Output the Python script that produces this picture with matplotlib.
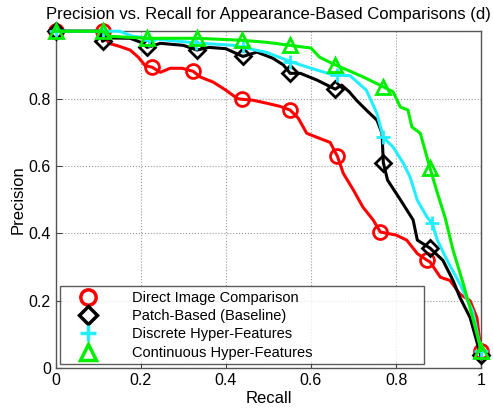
import numpy as np
import matplotlib.pyplot as plt

plt.rcParams['font.family'] = ['Liberation Sans', 'DejaVu Sans']

# Direct image comparison (red)
red_x = [0, 0.11, 0.125, 0.15, 0.175, 0.194, 0.21, 0.227, 0.246, 0.269, 0.297, 0.323,
         0.34, 0.37, 0.40, 0.427, 0.438, 0.464, 0.497, 0.527, 0.551, 0.57, 0.59, 0.62,
         0.645, 0.657, 0.662, 0.676, 0.70, 0.722, 0.746, 0.763, 0.80, 0.825, 0.85, 0.873,
         0.88, 0.904, 0.927, 0.95, 0.974, 0.99, 1.0]
red_y = [1, 1, 0.964, 0.955, 0.944, 0.923, 0.898, 0.893, 0.878, 0.89, 0.89, 0.881,
         0.864, 0.849, 0.825, 0.80, 0.798, 0.795, 0.786, 0.777, 0.766, 0.742, 0.697, 0.682,
         0.67, 0.641, 0.629, 0.578, 0.528, 0.478, 0.44, 0.404, 0.395, 0.38, 0.34, 0.32,
         0.315, 0.27, 0.26, 0.22, 0.20, 0.15, 0.045]
red_mx = [0, 0.11, 0.227, 0.323, 0.438, 0.551, 0.662, 0.763, 0.873, 1.0]
red_my = [1, 1, 0.893, 0.881, 0.798, 0.766, 0.629, 0.404, 0.32, 0.05]

# Patch-based baseline (black)
blk_x = [0, 0.105, 0.11, 0.125, 0.175, 0.2, 0.215, 0.246, 0.30, 0.332, 0.36, 0.40,
         0.44, 0.473, 0.51, 0.535, 0.551, 0.575, 0.614, 0.657, 0.672, 0.69, 0.707, 0.73,
         0.755, 0.767, 0.77, 0.78, 0.81, 0.84, 0.85, 0.88, 0.91, 0.934, 0.95, 0.974, 1.0]
blk_y = [1, 1, 0.97, 0.98, 0.979, 0.967, 0.952, 0.964, 0.958, 0.944, 0.952, 0.948,
         0.925, 0.938, 0.92, 0.90, 0.875, 0.875, 0.855, 0.828, 0.84, 0.82, 0.795, 0.766,
         0.736, 0.697, 0.61, 0.558, 0.50, 0.44, 0.38, 0.356, 0.32, 0.26, 0.21, 0.15, 0.033]
blk_mx = [0, 0.11, 0.215, 0.332, 0.44, 0.551, 0.657, 0.77, 0.88, 1.0]
blk_my = [1, 0.97, 0.952, 0.944, 0.925, 0.875, 0.828, 0.61, 0.356, 0.04]

# Discrete hyper-features (cyan)
cyn_x = [0, 0.15, 0.18, 0.25, 0.33, 0.418, 0.496, 0.551, 0.6, 0.653, 0.692, 0.73,
         0.755, 0.77, 0.793, 0.817, 0.833, 0.85, 0.873, 0.885, 0.897, 0.92, 0.95, 0.98, 1.0]
cyn_y = [1, 1, 0.985, 0.975, 0.965, 0.958, 0.937, 0.91, 0.89, 0.87, 0.868, 0.825,
         0.756, 0.685, 0.656, 0.608, 0.567, 0.498, 0.448, 0.43, 0.38, 0.32, 0.25, 0.17, 0.05]
cyn_mx = [0, 0.11, 0.22, 0.33, 0.44, 0.551, 0.66, 0.77, 0.885, 1.0]
cyn_my = [1, 1, 0.975, 0.965, 0.955, 0.91, 0.87, 0.685, 0.43, 0.05]

# Continuous hyper-features (green)
grn_x = [0, 0.11, 0.125, 0.215, 0.332, 0.438, 0.496, 0.551, 0.6, 0.62, 0.657, 0.676,
         0.723, 0.77, 0.793, 0.81, 0.828, 0.837, 0.857, 0.868, 0.88, 0.897, 0.915, 0.934,
         0.958, 0.98, 1.0]
grn_y = [1, 1, 0.985, 0.979, 0.979, 0.973, 0.967, 0.958, 0.95, 0.923, 0.90, 0.89,
         0.864, 0.835, 0.82, 0.775, 0.766, 0.716, 0.697, 0.647, 0.593, 0.52, 0.448, 0.35,
         0.25, 0.15, 0.053]
grn_mx = [0, 0.11, 0.215, 0.332, 0.438, 0.551, 0.657, 0.77, 0.88, 1.0]
grn_my = [1, 1, 0.979, 0.979, 0.973, 0.958, 0.90, 0.835, 0.593, 0.05]

labels = ['Direct Image Comparison', 'Patch-Based (Baseline)',
          'Discrete Hyper-Features', 'Continuous Hyper-Features']

fig = plt.figure(figsize=(4.93, 4.16), dpi=100)
ax = fig.add_axes([0.113, 0.115, 0.863, 0.81])

series = [
    (red_x, red_y, red_mx, red_my, '#ff0000', 'o'),
    (blk_x, blk_y, blk_mx, blk_my, '#000000', 'D'),
    (cyn_x, cyn_y, cyn_mx, cyn_my, '#22eeff', '+'),
    (grn_x, grn_y, grn_mx, grn_my, '#00ee00', '^'),
]
handles = []
for (lx, ly, mx, my, col, mk), lab in zip(series, labels):
    ax.plot(lx, ly, color=col, lw=2.2, clip_on=False, zorder=3)
    ms = 8 if mk == 'D' else 10
    ax.plot(mx, my, ls='none', marker=mk, ms=ms, mfc='none', mec=col, mew=2,
            clip_on=False, zorder=3)
    h, = ax.plot([], [], ls='none', marker=mk, ms=ms + 1, mfc='none', mec=col, mew=2.5)
    handles.append(h)

ax.set_xlim(0, 1)
ax.set_ylim(0, 1)
ax.set_xticks([0, 0.2, 0.4, 0.6, 0.8, 1])
ax.set_xticklabels(['0', '0.2', '0.4', '0.6', '0.8', '1'])
ax.set_yticks([0, 0.2, 0.4, 0.6, 0.8, 1])
ax.set_yticklabels(['0', '0.2', '0.4', '0.6', '0.8', ''])
ax.tick_params(labelsize=11.5, direction='in', length=4, color='#444444')
ax.grid(True, ls=':', color='#999999', lw=0.8)
for s in ax.spines.values():
    s.set_color('#555555')
    s.set_linewidth(1)

ax.set_xlabel('Recall', fontsize=12, labelpad=2)
ax.set_ylabel('Precision', fontsize=12, labelpad=2)
ax.set_title('Precision vs. Recall for Appearance-Based Comparisons (d)',
             fontsize=12, pad=9)

leg = ax.legend(handles, labels, loc='lower left',
                bbox_to_anchor=(0.011, 0.012, 0.855, 0.234), mode='expand',
                fontsize=10.5, frameon=True, fancybox=False, edgecolor='#333333',
                handlelength=3.2, handletextpad=1.4, borderpad=0.3,
                labelspacing=0.3, borderaxespad=0)
leg.get_frame().set_linewidth(1)
leg.set_zorder(5)

fig.savefig('out.png', dpi=100)
